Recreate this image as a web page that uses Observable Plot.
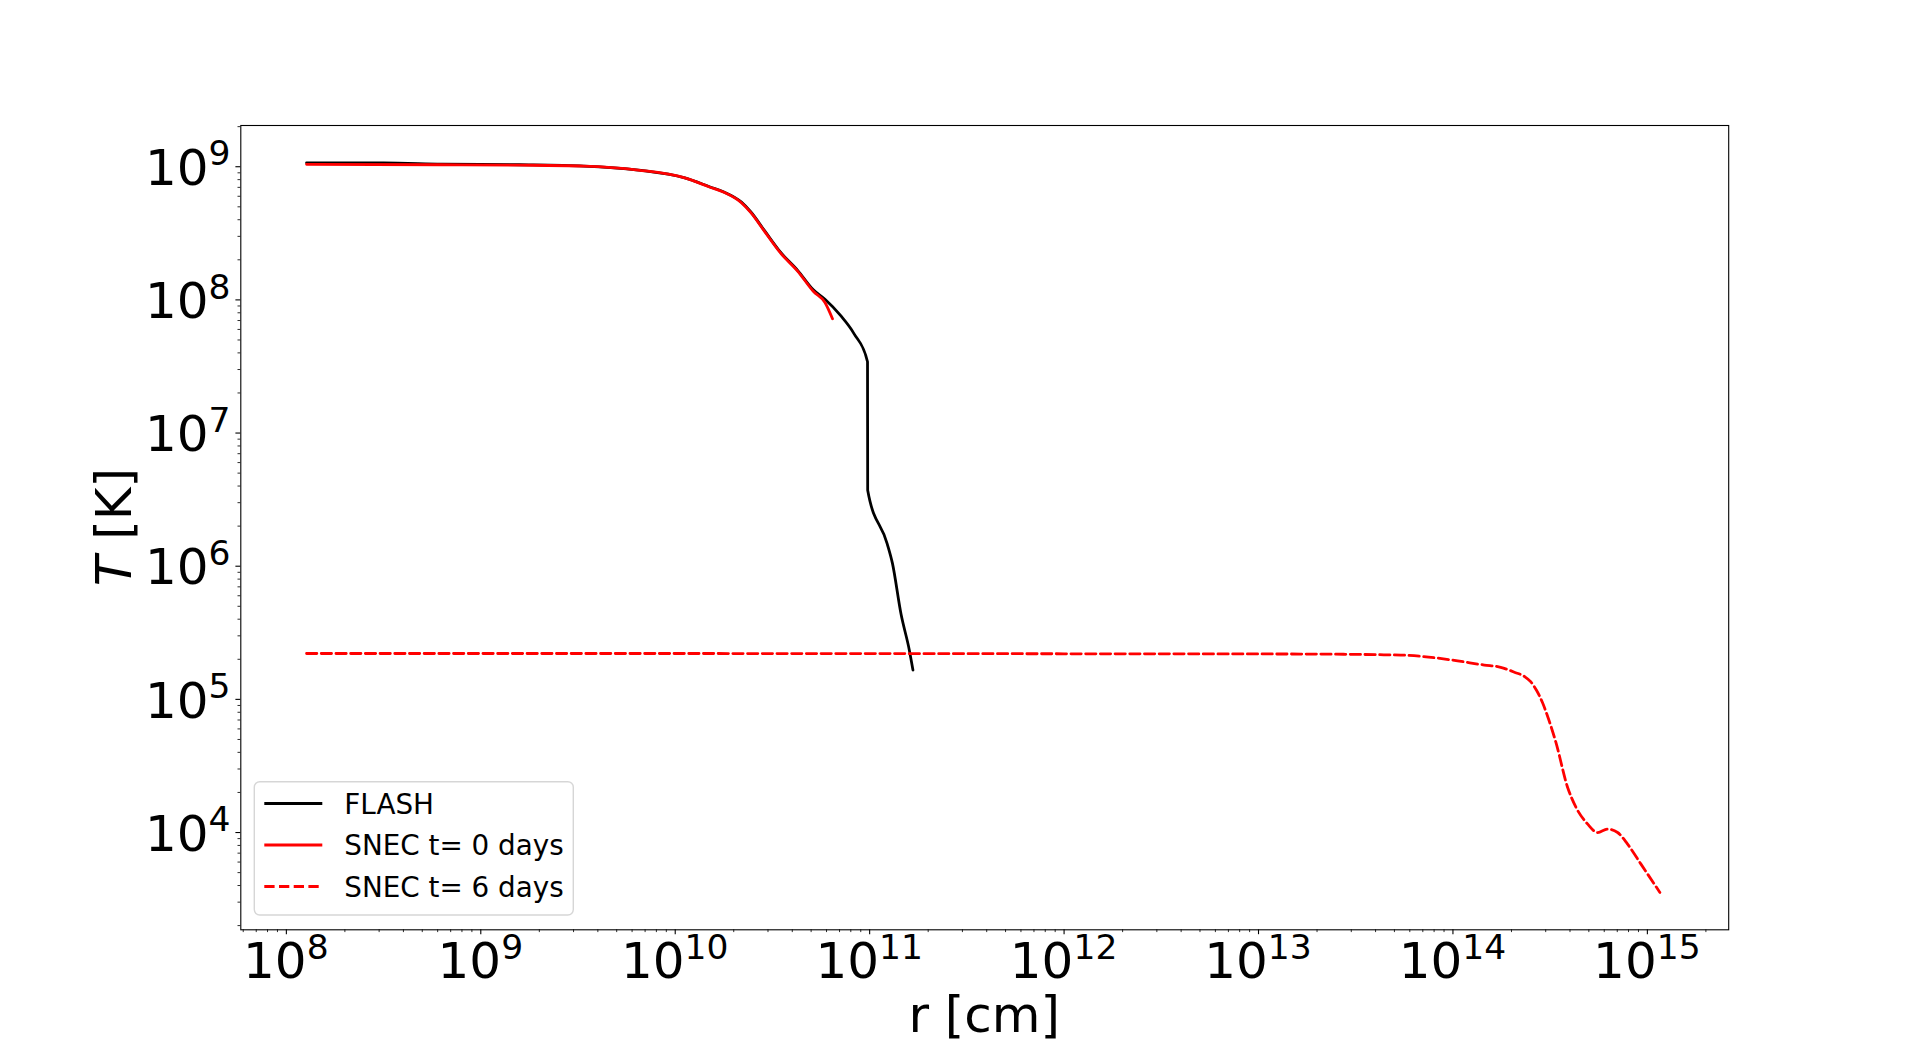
<!DOCTYPE html>
<html><head><meta charset="utf-8">
<script src="https://cdn.jsdelivr.net/npm/d3@7"></script>
<script src="https://cdn.jsdelivr.net/npm/@observablehq/plot@0.6"></script>
<style>html,body{margin:0;padding:0;background:#fff;} #chart svg{display:block;}</style>
</head><body><div id="chart"></div>
<script>
// ---- data ----
const seriesNames = ["FLASH", "SNEC t= 0 days", "SNEC t= 6 days"];

const flashR = [1.27e8, 3.16e8, 6.31e8, 1.58e9, 3.39e9, 6.46e9, 1.12e10, 1.50e10, 1.78e10, 2.19e10, 2.45e10, 2.88e10, 3.47e10, 4.27e10, 5.13e10, 5.89e10, 7.08e10, 8.32e10, 9.75e10, 9.77e10, 1.23e11, 1.31e11, 1.45e11, 1.60e11, 1.67e11];
const flashT = [1.07e9, 1.067e9, 1.047e9, 1.035e9, 1.012e9, 9.44e8, 8.24e8, 7.08e8, 6.46e8, 5.42e8, 4.57e8, 3.31e8, 2.29e8, 1.66e8, 1.19e8, 1.01e8, 7.64e7, 5.56e7, 3.43e7, 3.72e6, 1.48e6, 1.05e6, 4.37e5, 2.34e5, 1.66e5];

const snec0R = [1.27e8, 6.31e8, 1.58e9, 3.39e9, 6.46e9, 1.12e10, 1.50e10, 1.78e10, 2.19e10, 2.45e10, 2.88e10, 3.47e10, 4.27e10, 5.13e10, 5.89e10, 6.44e10];
const snec0T = [1.042e9, 1.035e9, 1.028e9, 1.012e9, 9.44e8, 8.24e8, 7.05e8, 6.43e8, 5.37e8, 4.52e8, 3.27e8, 2.26e8, 1.64e8, 1.16e8, 9.55e7, 7.21e7];

const snec6R = [1.27e8, 1e10, 1e12, 1.65e13, 5.40e13, 9.75e13, 1.45e14, 1.76e14, 2.07e14, 2.34e14, 2.51e14, 2.69e14, 2.88e14, 3.09e14, 3.38e14, 3.89e14, 4.29e14, 4.92e14, 5.55e14, 6.24e14, 7.03e14, 7.91e14, 9.27e14, 1.16e15];
const snec6T = [2.21e5, 2.21e5, 2.20e5, 2.19e5, 2.15e5, 1.98e5, 1.81e5, 1.74e5, 1.60e5, 1.48e5, 1.36e5, 1.17e5, 9.55e4, 7.24e4, 4.79e4, 2.18e4, 1.55e4, 1.16e4, 1.0e4, 1.06e4, 1.0e4, 8.18e3, 5.79e3, 3.55e3];

const xMajorTicks = [1e8, 1e9, 1e10, 1e11, 1e12, 1e13, 1e14, 1e15];
const yMajorTicks = [1e4, 1e5, 1e6, 1e7, 1e8, 1e9];
const xDomain = [5.83e7, 2.62e15];
const yDomain = [1860, 2.04e9];
const xLabel = "r [cm]";
const yLabelVar = "T";
const yLabelUnit = " [K]";

// ---- helpers ----
function minorTicks(domain) {
  const out = [];
  const lo = Math.floor(Math.log10(domain[0])), hi = Math.ceil(Math.log10(domain[1]));
  for (let e = lo; e < hi; e++) for (let k = 2; k <= 9; k++) {
    const v = k * Math.pow(10, e);
    if (v >= domain[0] && v <= domain[1]) out.push(v);
  }
  return out;
}
const rows = (R, T, s) => R.map((r, i) => ({r, T: T[i], s}));
const flash = rows(flashR, flashT, seriesNames[0]);
const snec0 = rows(snec0R, snec0T, seriesNames[1]);
const snec6 = rows(snec6R, snec6T, seriesNames[2]);

const W = 1920, H = 1044;
const fL = 240.3, fR = 1728.2, fT = 125, fB = 929.3;
const lw = 2.78, dash = "10.3,4.4";
const expFmt = d => "10^" + Math.round(Math.log10(d));

const chart = Plot.plot({
  width: W, height: H,
  marginLeft: fL, marginRight: W - fR, marginTop: fT, marginBottom: H - fB,
  style: {fontFamily: "DejaVu Sans", fontSize: "50px", color: "#000", background: "#fff", overflow: "visible"},
  x: {type: "log", domain: xDomain, label: null},
  y: {type: "log", domain: yDomain, label: null},
  marks: [
    Plot.axisX({ticks: minorTicks(xDomain), tickSize: 2.8, tickFormat: () => "", strokeWidth: 0.83, label: null}),
    Plot.axisY({ticks: minorTicks(yDomain), tickSize: 2.8, tickFormat: () => "", strokeWidth: 0.83, label: null}),
    Plot.axisX({ticks: xMajorTicks, tickSize: 4.9, tickPadding: 4.9, tickFormat: expFmt, strokeWidth: 1.1, label: null}),
    Plot.axisY({ticks: yMajorTicks, tickSize: 4.9, tickPadding: 4.9, tickFormat: expFmt, strokeWidth: 1.1, label: null}),
    Plot.line(flash, {x: "r", y: "T", stroke: "#000000", strokeWidth: lw, strokeLinejoin: "round", curve: "monotone-x"}),
    Plot.line(snec0, {x: "r", y: "T", stroke: "#ff0000", strokeWidth: lw, strokeLinejoin: "round", curve: "monotone-x"}),
    Plot.line(snec6, {x: "r", y: "T", stroke: "#ff0000", strokeWidth: lw, strokeDasharray: dash, strokeLinejoin: "round", curve: "monotone-x"}),
    Plot.frame({stroke: "#000", strokeWidth: 1.1})
  ]
});
document.getElementById("chart").append(chart);

// ---- post-process tick labels into 10 + superscript ----
const sx = chart.scale("x"), sy = chart.scale("y");
const svg = d3.select(chart);
function superscriptLabels(selector, place) {
  svg.selectAll(selector).each(function () {
    const t = d3.select(this), s = t.text();
    if (!s.includes("^")) return;
    d3.select(this.parentNode).attr("transform", null);
    const e = s.split("^")[1];
    const p = place(Math.pow(10, +e));
    t.attr("transform", null).attr("x", p.x).attr("y", p.y).attr("dy", null).attr("dx", null)
     .attr("text-anchor", p.anchor).attr("font-size", 50).attr("font-family", "DejaVu Sans").attr("fill", "#000");
    t.text("10");
    t.append("tspan").attr("font-size", 34.5).attr("dy", -19.5).text(e);
  });
}
superscriptLabels('g[aria-label="x-axis tick label"] text', v => ({x: sx.apply(v), y: 978.3, anchor: "middle"}));
superscriptLabels('g[aria-label="y-axis tick label"] text', v => ({x: 230.5, y: sy.apply(v) + 18.7, anchor: "end"}));

// ---- axis labels ----
svg.append("text").attr("x", (fL + fR) / 2).attr("y", 1032).attr("text-anchor", "middle")
  .attr("font-size", 50).attr("font-family", "DejaVu Sans").attr("fill", "#000").text(xLabel);
const yl = svg.append("text").attr("transform", `translate(130.7,${(fT + fB) / 2}) rotate(-90)`)
  .attr("text-anchor", "middle").attr("font-size", 50).attr("font-family", "DejaVu Sans").attr("fill", "#000");
yl.append("tspan").attr("font-style", "italic").text(yLabelVar);
yl.append("tspan").text(yLabelUnit);

// ---- legend ----
const lg = svg.append("g").attr("font-family", "DejaVu Sans").attr("font-size", 27.8).attr("text-anchor", "start");
lg.append("rect").attr("x", 254.3).attr("y", 781.7).attr("width", 319).attr("height", 133.3).attr("rx", 5.5)
  .attr("fill", "#fff").attr("fill-opacity", 0.8).attr("stroke", "#cccccc").attr("stroke-opacity", 0.8).attr("stroke-width", 1.39);
const styles = [
  {stroke: "#000000", dash: null},
  {stroke: "#ff0000", dash: null},
  {stroke: "#ff0000", dash: dash}
];
seriesNames.forEach((name, i) => {
  const yLine = 803.5 + i * 41.5;
  lg.append("line").attr("x1", 264.3).attr("x2", 322.3).attr("y1", yLine).attr("y2", yLine)
    .attr("stroke", styles[i].stroke).attr("stroke-width", lw).attr("stroke-dasharray", styles[i].dash);
  lg.append("text").attr("x", 344.3).attr("y", yLine + 10.3).attr("text-anchor", "start").attr("fill", "#000").text(name);
});
</script>
</body></html>
